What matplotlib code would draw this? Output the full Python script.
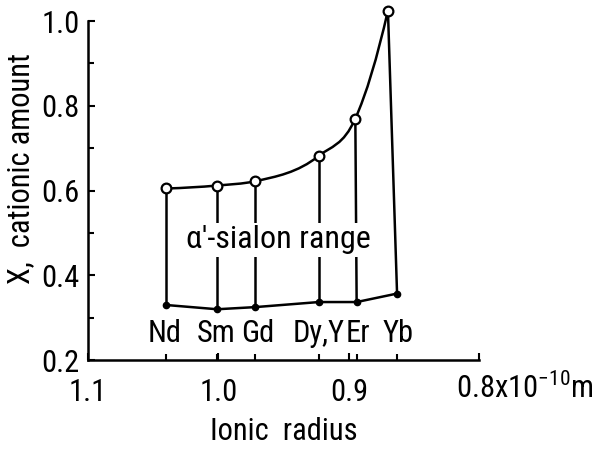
import numpy as np
import matplotlib
matplotlib.use("Agg")
import matplotlib.pyplot as plt
from matplotlib.path import Path
from matplotlib.patches import PathPatch

plt.rcParams['font.family'] = ['Roboto Condensed', 'DejaVu Sans']
plt.rcParams['mathtext.fontset'] = 'custom'
plt.rcParams['mathtext.rm'] = 'Roboto Condensed'
plt.rcParams['mathtext.it'] = 'Roboto Condensed'
plt.rcParams['mathtext.default'] = 'rm'

# ---------------------------------------------------------------------------
# Data
# ---------------------------------------------------------------------------
elements = ['Nd', 'Sm', 'Gd', 'Dy,Y', 'Er', 'Yb']
radius_top = [1.040, 1.001, 0.972, 0.923, 0.895, 0.870]   # 10^-10 m
radius_bot = [1.040, 1.001, 0.972, 0.923, 0.894, 0.863]
x_upper = [0.605, 0.612, 0.622, 0.682, 0.770, 1.025]       # upper limit
x_lower = [0.330, 0.320, 0.325, 0.337, 0.337, 0.357]       # lower limit
label_x = [1.041, 1.002, 0.970, 0.923, 0.893, 0.862]

x_ticks = [1.1, 1.0, 0.9, 0.8]
x_ticklabels = ['1.1', '1.0', '0.9', '']
y_ticks = [0.2, 0.4, 0.6, 0.8, 1.0]

LW = 1.8
FS = 22

fig = plt.figure(figsize=(5.99, 4.49), dpi=100)
ax = fig.add_axes([0.147, 0.198, 0.653, 0.755])

# ---------------------------------------------------------------------------
# smooth upper boundary: cubic Hermite through the points, as Bezier path
# ---------------------------------------------------------------------------
px = np.array(radius_top)
py = np.array(x_upper)
h = np.diff(px)
d = np.diff(py) / h
n = len(px)
m = np.zeros(n)
for i in range(1, n - 1):
    m[i] = (h[i] * d[i - 1] + h[i - 1] * d[i]) / (h[i - 1] + h[i])
m[0] = ((2 * h[0] + h[1]) * d[0] - h[0] * d[1]) / (h[0] + h[1])
m[-1] = ((2 * h[-1] + h[-2]) * d[-1] - h[-1] * d[-2]) / (h[-1] + h[-2])

verts = [(px[0], py[0])]
codes = [Path.MOVETO]
for i in range(n - 1):
    verts += [(px[i] + h[i] / 3, py[i] + m[i] * h[i] / 3),
              (px[i + 1] - h[i] / 3, py[i + 1] - m[i + 1] * h[i] / 3),
              (px[i + 1], py[i + 1])]
    codes += [Path.CURVE4] * 3
ax.add_patch(PathPatch(Path(verts, codes), fc='none', ec='black', lw=LW,
                       clip_on=False, zorder=3))

# verticals and lower boundary
for xt, xb, yu, yl in zip(radius_top, radius_bot, x_upper, x_lower):
    ax.plot([xt, xb], [yu, yl], color='black', lw=LW, clip_on=False, zorder=2)
ax.plot(radius_bot, x_lower, color='black', lw=LW, clip_on=False, zorder=2)
ax.plot(radius_bot, x_lower, 'o', color='black', ms=4.5, clip_on=False, zorder=4)
ax.plot(radius_top, x_upper, 'o', mfc='white', mec='black', mew=1.6, ms=7,
        clip_on=False, zorder=5)

for name, lx in zip(elements, label_x):
    ax.text(lx, 0.262, name, ha='center', va='center', fontsize=FS)

# region label breaks the vertical lines it crosses
ax.text(0.954, 0.484, "α'-sialon range", ha='center', va='center',
        fontsize=FS + 1, zorder=6,
        bbox=dict(boxstyle='square,pad=0.08', fc='white', ec='none'))

ax.set_xlim(1.1, 0.8)
ax.set_ylim(0.2, 1.0)
for side in ('top', 'right'):
    ax.spines[side].set_visible(False)
for side in ('left', 'bottom'):
    ax.spines[side].set_linewidth(LW)

ax.set_xticks(x_ticks)
ax.set_xticklabels(x_ticklabels)
ax.set_xticks(radius_bot, minor=True)
ax.set_yticks(y_ticks)
ax.set_yticklabels([f'{v:.1f}' for v in y_ticks])
ax.set_yticks([0.3, 0.5, 0.7, 0.9], minor=True)
ax.tick_params(axis='both', which='major', direction='in', length=5, width=1.5,
               labelsize=FS, pad=6)
ax.tick_params(axis='both', which='minor', direction='in', length=4, width=1.5)
ax.tick_params(axis='x', which='major', pad=13)

# label of the last x tick carries the unit
ax.text(0.8175, 0.2 - 13 / 423.75, "0.8x10$^{-10}$m", ha='left', va='top',
        fontsize=FS)

ax.set_xlabel('Ionic  radius', fontsize=FS, labelpad=7)
ax.set_ylabel('X,  cationic amount', fontsize=FS)
ax.yaxis.set_label_coords(-0.135, 0.566)

fig.savefig('out.png', dpi=100)
